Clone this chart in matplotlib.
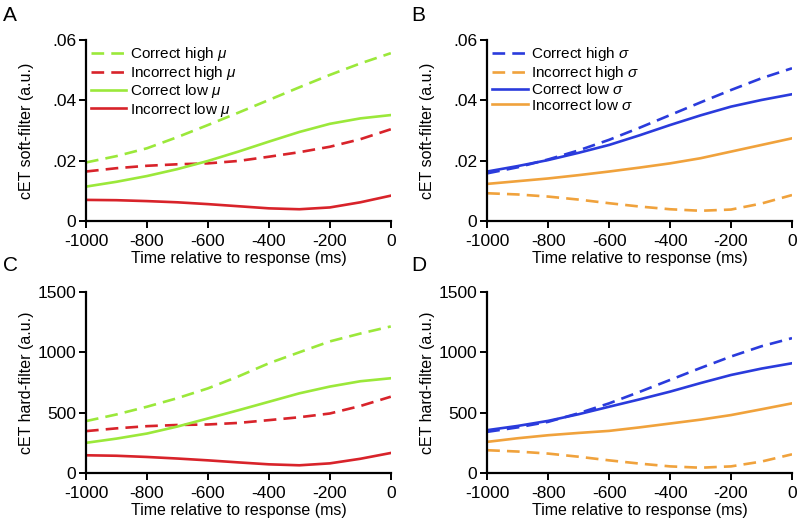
import matplotlib
matplotlib.use("Agg")
import matplotlib.pyplot as plt
import numpy as np

plt.rcParams['font.family'] = ['Liberation Sans', 'DejaVu Sans']
plt.rcParams['mathtext.fontset'] = 'custom'
plt.rcParams['mathtext.it'] = 'Liberation Sans:italic'
plt.rcParams['axes.unicode_minus'] = False

# time axis (ms relative to response)
t = [-1000, -900, -800, -700, -600, -500, -400, -300, -200, -100, 0]

# panel A: soft filter, mu split
a_corr_high = [.0194, .0215, .0241, .0278, .0318, .0359, .0401, .0443, .0484, .0522, .0556]
a_inc_high = [.0164, .0175, .0183, .0188, .0191, .0199, .0213, .0228, .0246, .0271, .0304]
a_corr_low = [.0114, .0130, .0149, .0172, .0199, .0230, .0263, .0295, .0322, .0340, .0351]
a_inc_low = [.0070, .0069, .0066, .0062, .0056, .0049, .0042, .0039, .0045, .0062, .0084]

# panel B: soft filter, sigma split
b_corr_high = [.0158, .0178, .0204, .0234, .0269, .0309, .0351, .0393, .0434, .0473, .0506]
b_inc_high = [.0092, .0088, .0081, .0071, .0059, .0048, .0039, .0034, .0038, .0058, .0086]
b_corr_low = [.0164, .0182, .0202, .0226, .0252, .0284, .0318, .0350, .0379, .0401, .0420]
b_inc_low = [.0123, .0132, .0141, .0152, .0164, .0177, .0191, .0208, .0230, .0252, .0274]

# panel C: hard filter, mu split
c_corr_high = [430, 485, 549, 620, 701, 800, 909, 1000, 1090, 1155, 1214]
c_inc_high = [347, 370, 388, 398, 402, 415, 438, 462, 493, 555, 632]
c_corr_low = [250, 285, 327, 385, 452, 520, 590, 660, 716, 760, 785]
c_inc_low = [147, 143, 133, 120, 105, 88, 72, 64, 80, 118, 166]

# panel D: hard filter, sigma split
d_corr_high = [341, 378, 424, 495, 577, 672, 771, 870, 965, 1050, 1117]
d_inc_high = [189, 178, 161, 135, 105, 78, 55, 44, 55, 95, 155]
d_corr_low = [355, 390, 432, 487, 549, 610, 674, 745, 812, 865, 909]
d_inc_low = [258, 288, 313, 332, 349, 378, 410, 442, 480, 528, 577]

green = '#9be83a'
red = '#d8232a'
blue = '#2a3bdc'
orange = '#f0a23c'
dash = (0, (4.8, 2.7))

fig = plt.figure(figsize=(8, 5.25), dpi=100)
W, H = 0.381, 0.345
axA = fig.add_axes([0.1075, 0.579, W, H])
axB = fig.add_axes([0.609, 0.579, W, H])
axC = fig.add_axes([0.1075, 0.099, W, H])
axD = fig.add_axes([0.609, 0.099, W, H])

def style(ax, ylabel, soft):
    for s in ['top', 'right']:
        ax.spines[s].set_visible(False)
    ax.spines['left'].set_linewidth(1.6)
    ax.spines['bottom'].set_linewidth(1.6)
    ax.tick_params(width=1.4, length=5, labelsize=12.5)
    ax.tick_params(axis='x', pad=4)
    ax.tick_params(axis='y', pad=2)
    ax.set_xlim(-1000, 0)
    ax.set_xticks([-1000, -800, -600, -400, -200, 0])
    if soft:
        ax.set_ylim(0, 0.06)
        ax.set_yticks([0, .02, .04, .06])
        ax.set_yticklabels(['0', '.02', '.04', '.06'])
    else:
        ax.set_ylim(0, 1500)
        ax.set_yticks([0, 500, 1000, 1500])
    ax.set_xlabel('Time relative to response (ms)', fontsize=11.5, labelpad=2)
    ax.set_ylabel(ylabel, fontsize=11.5)
    ax.yaxis.set_label_coords(-0.17, 0.5)

def draw(ax, ch, ih, cl, il, c1, c2, sym, legend):
    ax.plot(t, ch, color=c1, lw=1.9, ls=dash, label='Correct high ' + sym)
    ax.plot(t, ih, color=c2, lw=1.9, ls=dash, label='Incorrect high ' + sym)
    ax.plot(t, cl, color=c1, lw=1.9, label='Correct low ' + sym)
    ax.plot(t, il, color=c2, lw=1.9, label='Incorrect low ' + sym)
    if legend:
        ax.legend(loc='upper left', bbox_to_anchor=(-0.013, 1.02), frameon=False,
                  fontsize=11, handlelength=2.3, handletextpad=0.25,
                  labelspacing=0.03, borderaxespad=0.2)

draw(axA, a_corr_high, a_inc_high, a_corr_low, a_inc_low, green, red, r'$\mu$', True)
draw(axB, b_corr_high, b_inc_high, b_corr_low, b_inc_low, blue, orange, r'$\sigma$', True)
draw(axC, c_corr_high, c_inc_high, c_corr_low, c_inc_low, green, red, r'$\mu$', False)
draw(axD, d_corr_high, d_inc_high, d_corr_low, d_inc_low, blue, orange, r'$\sigma$', False)

style(axA, 'cET soft-filter (a.u.)', True)
style(axB, 'cET soft-filter (a.u.)', True)
style(axC, 'cET hard-filter (a.u.)', False)
style(axD, 'cET hard-filter (a.u.)', False)

for lab, x, y in [('A', 0.004, 0.970), ('B', 0.514, 0.970), ('C', 0.004, 0.495), ('D', 0.514, 0.495)]:
    fig.text(x, y, lab, fontsize=15, ha='left', va='center')

fig.savefig('out.png', dpi=100)
